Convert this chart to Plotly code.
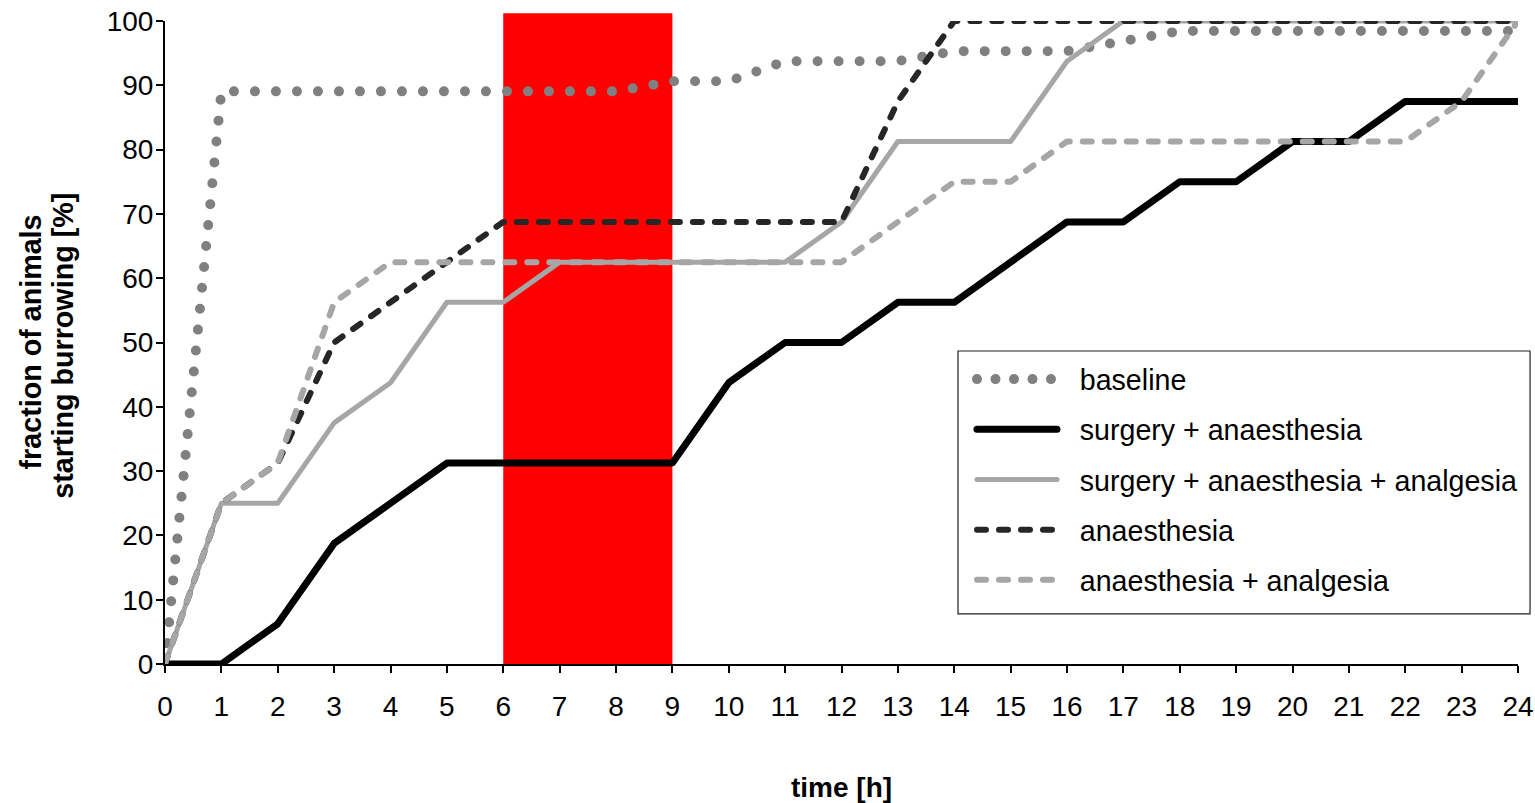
import plotly.graph_objects as go

# ---------------- data ----------------
hours = list(range(25))
x_ticks = list(range(25))
y_ticks = list(range(0, 101, 10))

baseline = [0, 89.06, 89.06, 89.06, 89.06, 89.06, 89.06, 89.06, 89.06, 90.63, 90.63,
            93.75, 93.75, 93.75, 95.31, 95.31, 95.31, 96.88, 98.44, 98.44, 98.44,
            98.44, 98.44, 98.44, 98.44]
surgery_anaesthesia = [0, 0, 6.25, 18.75, 25, 31.25, 31.25, 31.25, 31.25, 31.25, 43.75,
                       50, 50, 56.25, 56.25, 62.5, 68.75, 68.75, 75, 75, 81.25, 81.25,
                       87.5, 87.5, 87.5]
surgery_anaesthesia_analgesia = [0, 25, 25, 37.5, 43.75, 56.25, 56.25, 62.5, 62.5, 62.5,
                                 62.5, 62.5, 68.75, 81.25, 81.25, 81.25, 93.75, 100, 100,
                                 100, 100, 100, 100, 100, 100]
anaesthesia = [0, 25, 31.25, 50, 56.25, 62.5, 68.75, 68.75, 68.75, 68.75, 68.75, 68.75,
               68.75, 87.5, 100, 100, 100, 100, 100, 100, 100, 100, 100, 100, 100]
anaesthesia_analgesia = [0, 25, 31.25, 56.25, 62.5, 62.5, 62.5, 62.5, 62.5, 62.5, 62.5,
                         62.5, 62.5, 68.75, 75, 75, 81.25, 81.25, 81.25, 81.25, 81.25,
                         81.25, 81.25, 87.5, 100]
band_hours = [6, 9]

series_names = ["baseline", "surgery + anaesthesia", "surgery + anaesthesia + analgesia",
                "anaesthesia", "anaesthesia + analgesia"]

FONT = "Liberation Sans, Arial, sans-serif"
NB = "\u00a0" * 4  # gap between legend sample and label

styles = [
    dict(color="#808080", width=10, dash="0px,21px"),
    dict(color="#000000", width=7, dash="solid"),
    dict(color="#a6a6a6", width=5, dash="solid"),
    dict(color="#262626", width=6, dash="9px,13px"),
    dict(color="#a6a6a6", width=6, dash="9px,13px"),
]

fig = go.Figure()
for i, (name, ys) in enumerate(zip(series_names, [baseline, surgery_anaesthesia,
                                                  surgery_anaesthesia_analgesia,
                                                  anaesthesia, anaesthesia_analgesia])):
    fig.add_trace(go.Scatter(
        x=hours, y=ys, mode="lines", name=NB + name, line=styles[i],
        legendgroup=f"g{i}", cliponaxis=False, hoverinfo="skip",
    ))

# highlighted period
fig.add_shape(type="rect", xref="x", yref="paper", x0=band_hours[0], x1=band_hours[1],
              y0=0, y1=1.012, fillcolor="#ff0000", line=dict(width=0), layer="below")
# legend frame
fig.add_shape(type="rect", xref="paper", yref="paper", x0=0.5861, x1=1.0089,
              y0=0.0778, y1=0.4868, fillcolor="white",
              line=dict(color="#222222", width=1.2), layer="above")

fig.update_layout(
    width=1535, height=803,
    margin=dict(l=165, r=17, t=21, b=139, autoexpand=False),
    paper_bgcolor="white", plot_bgcolor="white",
    font=dict(family=FONT, color="black", size=27),
    showlegend=True,
    legend=dict(
        x=0.5861, y=0.4821, xanchor="left", yanchor="top",
        borderwidth=0, bgcolor="rgba(0,0,0,0)",
        font=dict(family=FONT, size=28.6, color="black"),
        traceorder="grouped", tracegroupgap=10, itemwidth=80,
    ),
    xaxis=dict(
        range=[0, 24], tickmode="array", tickvals=x_ticks,
        ticktext=[str(v) for v in x_ticks], automargin=False,
        showgrid=False, zeroline=False, showline=True, linecolor="black", linewidth=2,
        ticks="outside", ticklen=7, tickwidth=2, tickcolor="black",
        ticklabelstandoff=9,
        tickfont=dict(family=FONT, size=28, color="black"),
    ),
    yaxis=dict(
        range=[0, 100], tickmode="array", tickvals=y_ticks,
        ticktext=[str(v) for v in y_ticks], automargin=False,
        showgrid=False, zeroline=False, showline=True, linecolor="black", linewidth=2,
        ticks="outside", ticklen=7, tickwidth=2, tickcolor="black",
        ticklabelstandoff=-3,
        tickfont=dict(family=FONT, size=28, color="black"),
    ),
    annotations=[
        dict(text="<b>time [h]</b>", xref="paper", yref="paper", x=0.5, y=-0.1928,
             xanchor="center", yanchor="middle", showarrow=False,
             font=dict(family=FONT, size=28, color="black")),
        dict(text="<b>fraction of animals</b>",
             xref="paper", yref="paper", x=(30 - 165) / 1353, y=0.50, textangle=-90,
             xanchor="center", yanchor="middle", showarrow=False,
             font=dict(family=FONT, size=28.7, color="black")),
        dict(text="<b>starting burrowing [%]</b>",
             xref="paper", yref="paper", x=(63 - 165) / 1353, y=0.495, textangle=-90,
             xanchor="center", yanchor="middle", showarrow=False,
             font=dict(family=FONT, size=28.7, color="black")),
    ],
)

post = """
document.body.style.margin='0';
document.body.style.padding='0';
var gd = document.getElementById('{plot_id}');
function rc(){
  gd.querySelectorAll('path.js-line').forEach(function(p){
    p.style.strokeLinecap='round'; p.style.strokeLinejoin='round';
  });
  gd.querySelectorAll('.legend g.legendlines').forEach(function(g){
    g.setAttribute('transform','translate(14,0)');
  });
  var items = gd.querySelectorAll('.legend g.traces');
  if (items.length) {
    var p = items[0].querySelector('path.js-line');
    if (p) p.style.strokeDasharray = '0px,18.5px';
  }
}
rc();
gd.on('plotly_afterplot', rc);
"""
fig.write_html("out.html", post_script=post, config={"displayModeBar": False})
